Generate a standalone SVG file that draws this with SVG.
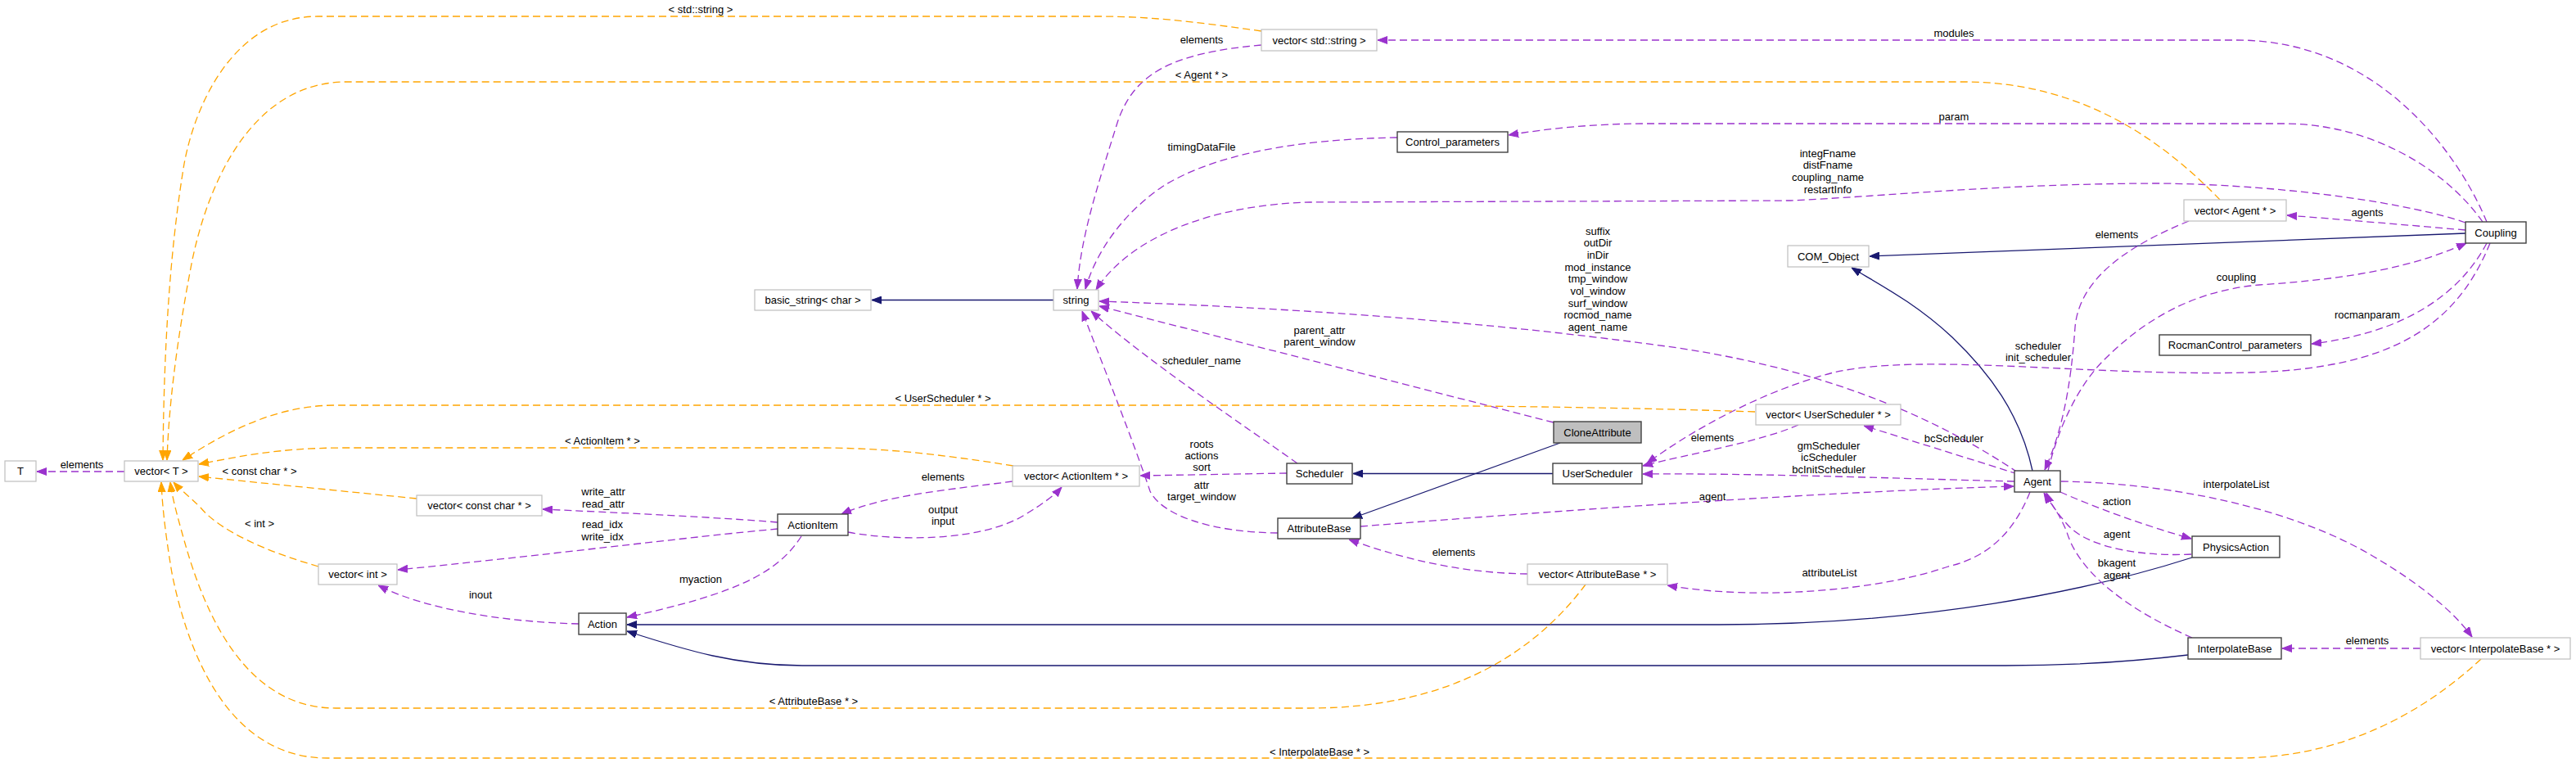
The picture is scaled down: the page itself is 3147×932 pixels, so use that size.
<svg xmlns="http://www.w3.org/2000/svg" width="3147" height="932" viewBox="0 0 3147 932">
<style>
text{font-family:"Liberation Sans",Arial,Helvetica,sans-serif;font-size:13px;fill:#000;text-anchor:middle}
.node rect{fill:#fff;stroke-width:1.2}
.gb rect{stroke:#bfbfbf}
.bb rect{stroke:#404040;stroke-width:1.4}
.focus rect{fill:#bfbfbf;stroke:#404040;stroke-width:1.4}
.p{fill:none;stroke:#9a32cd;stroke-width:1.3;stroke-dasharray:9,5;marker-end:url(#ap)}
.o{fill:none;stroke:#ffa500;stroke-width:1.3;stroke-dasharray:9,5;marker-end:url(#ao)}
.s{fill:none;stroke:#191970;stroke-width:1.3;marker-end:url(#as)}
</style>
<defs>
<marker id="ap" markerUnits="userSpaceOnUse" markerWidth="12" markerHeight="10" viewBox="0 0 12 10" refX="12" refY="5" orient="auto"><path d="M0,0.5 L12,5 L0,9.5 z" fill="#9a32cd" stroke="#9a32cd"/></marker>
<marker id="ao" markerUnits="userSpaceOnUse" markerWidth="12" markerHeight="10" viewBox="0 0 12 10" refX="12" refY="5" orient="auto"><path d="M0,0.5 L12,5 L0,9.5 z" fill="#ffa500" stroke="#ffa500"/></marker>
<marker id="as" markerUnits="userSpaceOnUse" markerWidth="12" markerHeight="10" viewBox="0 0 12 10" refX="12" refY="5" orient="auto"><path d="M0,0.5 L12,5 L0,9.5 z" fill="#191970" stroke="#191970"/></marker>
</defs>
<rect width="3147" height="932" fill="#fff"/>
<g id="edges">
<!-- inheritance -->
<path class="s" d="M1287,366.5 L1065,366.5"/>
<path class="s" d="M3012,285 L2284,313"/>
<path class="s" d="M2483,575 C2468,505 2430,455 2385,412 C2340,370 2295,347 2262,327"/>
<path class="s" d="M1897,578.5 L1653,578.5"/>
<path class="s" d="M1906,541 L1652,633"/>
<path class="s" d="M2678,681 C2550,722 2350,763 2100,763 L766,763"/>
<path class="s" d="M2673,800 C2590,810 2520,813 2450,813 L980,813 C900,813 840,795 766,771"/>
<!-- purple members -->
<path class="p" d="M1541,55 C1430,65 1385,90 1365,150 C1340,230 1320,290 1316,353"/>
<path class="p" d="M1707,168 C1580,170 1480,190 1420,228 C1370,262 1338,310 1326,353"/>
<path class="p" d="M3012,272 C2950,250 2800,226 2640,224 C2450,224 2300,240 2187,245 L1600,247 C1480,250 1380,290 1339,354"/>
<path class="p" d="M3038,271 C3000,180 2900,49 2733,49 L1683,49"/>
<path class="p" d="M3033,271 C2990,210 2900,151 2790,151 L2010,151 C1950,151 1890,157 1843,165"/>
<path class="p" d="M3012,281 C2930,274 2860,268 2794,263"/>
<path class="p" d="M2674,270 C2600,300 2540,340 2535,400 C2530,470 2520,525 2498,574"/>
<path class="p" d="M2502,575 C2515,520 2540,470 2570,440 C2620,390 2680,355 2760,348 C2880,340 2950,325 3013,297"/>
<path class="p" d="M3038,297 C3010,350 2950,405 2824,420"/>
<path class="p" d="M3042,297 C3000,400 2920,450 2750,455 C2550,460 2350,430 2240,455 C2150,478 2060,530 2012,566"/>
<path class="p" d="M2465,577 C2380,520 2250,455 2050,425 C1800,390 1550,375 1343,368"/>
<path class="p" d="M1898,516 L1343,374"/>
<path class="p" d="M1585,566 C1520,520 1400,440 1333,380"/>
<path class="p" d="M1561,651 C1480,650 1420,630 1405,600 C1385,540 1345,440 1322,380"/>
<path class="p" d="M1572,578 L1393,581"/>
<path class="p" d="M1237,588 C1160,598 1080,605 1028,628"/>
<path class="p" d="M1036,650 C1100,662 1200,660 1250,630 C1275,615 1288,605 1297,595"/>
<path class="p" d="M950,638 C880,632 750,626 663,622"/>
<path class="p" d="M950,646 C850,655 650,680 486,696"/>
<path class="p" d="M979,655 C950,700 900,725 766,754"/>
<path class="p" d="M707,762 C620,760 520,745 462,715"/>
<path class="p" d="M152,576 L45,576"/>
<path class="p" d="M1662,643 C1950,620 2250,600 2460,594"/>
<path class="p" d="M2461,588 C2300,584 2150,578 2007,579"/>
<path class="p" d="M2197,519 C2150,540 2060,555 2007,569"/>
<path class="p" d="M2465,579 L2277,520"/>
<path class="p" d="M2480,601 C2460,650 2430,680 2380,692 C2300,720 2150,735 2037,715"/>
<path class="p" d="M1866,701 C1790,700 1720,685 1648,659"/>
<path class="p" d="M2517,601 C2560,620 2620,642 2677,658"/>
<path class="p" d="M2677,677 C2620,680 2550,670 2525,640 C2512,625 2505,615 2500,602"/>
<path class="p" d="M2678,779 C2600,745 2540,700 2525,650 C2515,625 2505,615 2497,602"/>
<path class="p" d="M2518,588 C2650,590 2800,620 2900,680 C2960,715 3000,750 3020,778"/>
<path class="p" d="M2957,792 L2788,792"/>
<!-- orange template instances -->
<path class="o" d="M1541,38 C1450,25 1400,20 1340,20 L388,20 C290,20 240,120 225,200 C205,320 200,450 199,562"/>
<path class="o" d="M2712,244 C2650,180 2550,100 2400,100 L423,100 C320,100 260,200 235,317 C215,420 206,500 204,562"/>
<path class="o" d="M2144,503 C2000,498 1800,495 1600,495 L410,495 C340,495 280,525 223,562"/>
<path class="o" d="M1238,569 C1150,555 1080,547 1000,547 L420,547 C340,547 290,558 243,567"/>
<path class="o" d="M509,609 C420,600 320,590 243,582"/>
<path class="o" d="M389,692 C330,675 270,650 245,620 C230,605 220,598 212,589"/>
<path class="o" d="M1937,714 C1880,790 1780,865 1600,865 L410,865 C300,865 250,750 225,660 C215,625 210,605 208,589"/>
<path class="o" d="M3031,805 C2950,880 2850,926 2733,926 L400,926 C280,926 230,800 210,700 C200,640 198,610 197,589"/>
</g>
<g id="labels">
<text x="856" y="16">&lt; std::string &gt;</text>
<text x="1468" y="53">elements</text>
<text x="1468" y="96">&lt; Agent * &gt;</text>
<text x="2387" y="45">modules</text>
<text x="2387" y="147">param</text>
<text x="1468" y="184">timingDataFile</text>
<text x="2233" y="192">integFname</text>
<text x="2233" y="206">distFname</text>
<text x="2233" y="221">coupling_name</text>
<text x="2233" y="236">restartInfo</text>
<text x="2892" y="264">agents</text>
<text x="2586" y="291">elements</text>
<text x="1952" y="287">suffix</text>
<text x="1952" y="301">outDir</text>
<text x="1952" y="316">inDir</text>
<text x="1952" y="331">mod_instance</text>
<text x="1952" y="345">tmp_window</text>
<text x="1952" y="360">vol_window</text>
<text x="1952" y="375">surf_window</text>
<text x="1952" y="389">rocmod_name</text>
<text x="1952" y="404">agent_name</text>
<text x="2732" y="343">coupling</text>
<text x="2892" y="389">rocmanparam</text>
<text x="1612" y="408">parent_attr</text>
<text x="1612" y="422">parent_window</text>
<text x="2490" y="427">scheduler</text>
<text x="2490" y="441">init_scheduler</text>
<text x="1468" y="445">scheduler_name</text>
<text x="1152" y="491">&lt; UserScheduler * &gt;</text>
<text x="2092" y="539">elements</text>
<text x="2387" y="540">bcScheduler</text>
<text x="736" y="543">&lt; ActionItem * &gt;</text>
<text x="1468" y="547">roots</text>
<text x="1468" y="561">actions</text>
<text x="1468" y="575">sort</text>
<text x="2234" y="549">gmScheduler</text>
<text x="2234" y="563">icScheduler</text>
<text x="2234" y="578">bcInitScheduler</text>
<text x="100" y="572">elements</text>
<text x="317" y="580">&lt; const char * &gt;</text>
<text x="1152" y="587">elements</text>
<text x="2732" y="596">interpolateList</text>
<text x="1468" y="597">attr</text>
<text x="1468" y="611">target_window</text>
<text x="737" y="605">write_attr</text>
<text x="737" y="620">read_attr</text>
<text x="2092" y="611">agent</text>
<text x="2586" y="617">action</text>
<text x="1152" y="627">output</text>
<text x="1152" y="641">input</text>
<text x="317" y="644">&lt; int &gt;</text>
<text x="736" y="645">read_idx</text>
<text x="736" y="660">write_idx</text>
<text x="2586" y="657">agent</text>
<text x="1776" y="679">elements</text>
<text x="2586" y="692">bkagent</text>
<text x="2586" y="707">agent</text>
<text x="2235" y="704">attributeList</text>
<text x="856" y="712">myaction</text>
<text x="587" y="731">inout</text>
<text x="2892" y="787">elements</text>
<text x="994" y="861">&lt; AttributeBase * &gt;</text>
<text x="1612" y="923">&lt; InterpolateBase * &gt;</text>
</g>
<g id="n_T" class="node gb"><rect x="6" y="563" width="38" height="25"/><text x="25" y="580">T</text></g>
<g id="n_vectorT" class="node gb"><rect x="152" y="563" width="90" height="25"/><text x="197" y="580">vector&lt; T &gt;</text></g>
<g id="n_vectorConstChar" class="node gb"><rect x="509" y="605" width="153" height="25"/><text x="585.5" y="622">vector&lt; const char * &gt;</text></g>
<g id="n_vectorInt" class="node gb"><rect x="389" y="689" width="96" height="25"/><text x="437" y="706">vector&lt; int &gt;</text></g>
<g id="n_Action" class="node bb"><rect x="707" y="749" width="58" height="26"/><text x="736" y="766.5">Action</text></g>
<g id="n_ActionItem" class="node bb"><rect x="950" y="628" width="86" height="26"/><text x="993" y="645.5">ActionItem</text></g>
<g id="n_vectorActionItem" class="node gb"><rect x="1237" y="569" width="155" height="25"/><text x="1314.5" y="586">vector&lt; ActionItem * &gt;</text></g>
<g id="n_Scheduler" class="node bb"><rect x="1572" y="566" width="80" height="25"/><text x="1612" y="583">Scheduler</text></g>
<g id="n_AttributeBase" class="node bb"><rect x="1561" y="633" width="101" height="25"/><text x="1611.5" y="650">AttributeBase</text></g>
<g id="n_CloneAttribute" class="node focus"><rect x="1898" y="515" width="107" height="26"/><text x="1951.5" y="532.5">CloneAttribute</text></g>
<g id="n_UserScheduler" class="node bb"><rect x="1897" y="566" width="109" height="25"/><text x="1951.5" y="583">UserScheduler</text></g>
<g id="n_vectorUserScheduler" class="node gb"><rect x="2145" y="494" width="177" height="25"/><text x="2233.5" y="511">vector&lt; UserScheduler * &gt;</text></g>
<g id="n_vectorAttributeBase" class="node gb"><rect x="1866" y="689" width="171" height="25"/><text x="1951.5" y="706">vector&lt; AttributeBase * &gt;</text></g>
<g id="n_Agent" class="node bb"><rect x="2461" y="575" width="56" height="26"/><text x="2489" y="592.5">Agent</text></g>
<g id="n_PhysicsAction" class="node bb"><rect x="2678" y="655" width="107" height="26"/><text x="2731.5" y="672.5">PhysicsAction</text></g>
<g id="n_InterpolateBase" class="node bb"><rect x="2673" y="779" width="114" height="26"/><text x="2730" y="796.5">InterpolateBase</text></g>
<g id="n_vectorInterpolateBase" class="node gb"><rect x="2957" y="779" width="183" height="26"/><text x="3048.5" y="796.5">vector&lt; InterpolateBase * &gt;</text></g>
<g id="n_vectorAgent" class="node gb"><rect x="2668" y="244" width="125" height="26"/><text x="2730.5" y="261.5">vector&lt; Agent * &gt;</text></g>
<g id="n_Coupling" class="node bb"><rect x="3012" y="271" width="74" height="26"/><text x="3049" y="288.5">Coupling</text></g>
<g id="n_RocmanControl_parameters" class="node bb"><rect x="2638" y="409" width="185" height="25"/><text x="2730.5" y="426">RocmanControl_parameters</text></g>
<g id="n_Control_parameters" class="node bb"><rect x="1707" y="161" width="135" height="25"/><text x="1774.5" y="178">Control_parameters</text></g>
<g id="n_COM_Object" class="node gb"><rect x="2184" y="300" width="99" height="26"/><text x="2233.5" y="317.5">COM_Object</text></g>
<g id="n_vectorString" class="node gb"><rect x="1541" y="36" width="141" height="26"/><text x="1611.5" y="53.5">vector&lt; std::string &gt;</text></g>
<g id="n_basic_string" class="node gb"><rect x="922" y="354" width="142" height="25"/><text x="993" y="371">basic_string&lt; char &gt;</text></g>
<g id="n_string" class="node gb"><rect x="1287" y="354" width="55" height="25"/><text x="1314.5" y="371">string</text></g>
</svg>
